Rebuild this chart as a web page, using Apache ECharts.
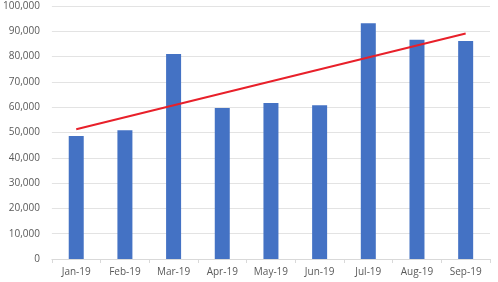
<!DOCTYPE html>
<html><head><meta charset="utf-8">
<script src="https://cdn.jsdelivr.net/npm/echarts@6/dist/echarts.min.js"></script>
<style>html,body{margin:0;padding:0;background:#fff}#c{width:498px;height:282px}</style>
</head><body><div id="c"></div>
<script>
const categories = ['Jan-19','Feb-19','Mar-19','Apr-19','May-19','Jun-19','Jul-19','Aug-19','Sep-19'];
const values = [48600, 50900, 81000, 59700, 61700, 60800, 93200, 86700, 86200];
const trend = [51300, null, null, null, null, null, null, null, 89100];
const chart = echarts.init(document.getElementById('c'), null, {renderer:'canvas'});
chart.setOption({
  animation:false,
  grid:{left:50,right:8,top:6,bottom:23,containLabel:false},
  xAxis:{type:'category',data:categories,
    axisLine:{lineStyle:{color:'#d9d9d9'}},
    axisTick:{show:true,length:4,lineStyle:{color:'#d9d9d9'}},
    axisLabel:{color:'#595959',fontSize:10,fontFamily:'Open Sans',margin:8}},
  yAxis:{type:'value',min:0,max:100000,interval:10000,
    axisLine:{show:false},axisTick:{show:false},
    splitLine:{lineStyle:{color:'#e3e3e3'}},
    axisLabel:{color:'#595959',fontSize:10,fontFamily:'Open Sans',margin:12,
      formatter:v=>v.toLocaleString('en-US')}},
  series:[
    {type:'bar',data:values,barWidth:15,itemStyle:{color:'#4472c4'}},
    {type:'line',data:trend,connectNulls:true,symbol:'none',
      lineStyle:{color:'#e8202a',width:2}}
  ]
});
</script></body></html>
